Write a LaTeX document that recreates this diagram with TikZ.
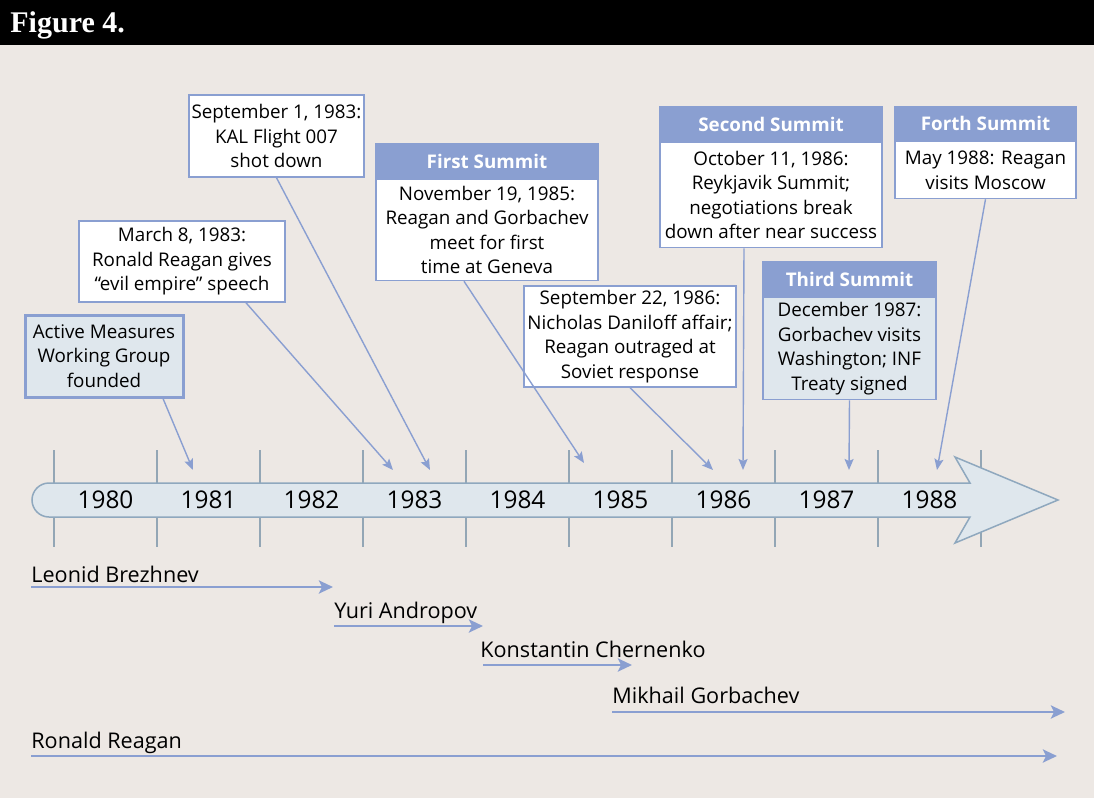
\documentclass[tikz,border=0pt]{standalone}
\usepackage{fontspec}
\setmainfont{Open Sans}
\newfontfamily\figfont{Liberation Serif}
\usepackage{tikz}
\usetikzlibrary{positioning,arrows.meta,calc}
\definecolor{SummitBlue}{HTML}{8A9FD1}
\definecolor{PaleBlue}{HTML}{DFE7ED}
\definecolor{BarEdge}{HTML}{8FA8BE}
\definecolor{TickGray}{HTML}{93A6B5}
\definecolor{PaperBg}{HTML}{EDE8E4}

\begin{document}
\begin{tikzpicture}[
    x=0.5pt, y=-0.5pt,
    event/.style={rectangle, draw=SummitBlue, line width=0.75pt, fill=white, align=center, inner sep=1pt, font=\fontsize{9.4}{12.3}\selectfont},
    summithead/.style={rectangle, draw=SummitBlue, fill=SummitBlue, line width=0.75pt, text=white, inner sep=0pt, font=\bfseries\fontsize{9.4}{11}\selectfont},
    pointer/.style={draw=SummitBlue, line width=0.7pt, -{Stealth[length=5.5pt,width=4.5pt,inset=1pt]}},
    reign/.style={draw=SummitBlue, line width=1.4pt, -{Stealth[length=7pt,width=6.5pt,inset=1.5pt]}},
    leader/.style={anchor=base west, inner sep=0pt, font=\fontsize{10.8}{13}\selectfont},
    year/.style={inner sep=0pt, font=\fontsize{12.2}{15}\selectfont}
  ]
  % Page
  \fill[PaperBg] (0,0) rectangle (1094,798);
  \fill[black] (0,0) rectangle (1094,45);
  \node[anchor=base west, inner sep=0pt, text=white, font=\figfont\bfseries\fontsize{15}{18}\selectfont] (figtitle) at (10,32) {Figure 4.};

  % Timeline
  \foreach \k in {0,...,9}
    \draw[TickGray, line width=0.75pt] (54+103*\k,450) -- (54+103*\k,547);
  \draw[BarEdge, fill=PaleBlue, line width=0.75pt] (970,483) -- (49,483)
    arc[start angle=270, end angle=90, radius=17] -- (970,517) -- (955,543)
    -- (1058,500) -- (955,457) -- cycle;
  \foreach \yr [count=\k from 0] in {1980,...,1988}
    \node[year] (y\yr) at (105.5+103*\k,500) {\yr};

  % Pointer ends
  \coordinate (p81) at (193,470);
  \coordinate (p83a) at (393,470);
  \coordinate (p83b) at (430,470);
  \coordinate (p85) at (584,463);
  \coordinate (p86a) at (713,470);
  \coordinate (p86b) at (743,470);
  \coordinate (p87) at (849,470);
  \coordinate (p88) at (937,470);

  % Events
  \node[event, line width=1.5pt, fill=PaleBlue, minimum width=79pt, minimum height=41pt] (amwg) at (104,356) {Active Measures\\Working Group\\founded};
  \node[event, minimum width=103pt, minimum height=40.5pt] (evil) at (182,261.5) {March 8, 1983:\\Ronald Reagan gives\\“evil empire” speech};
  \node[event, minimum width=87.5pt, minimum height=41pt] (kal) at (276.5,136) {September 1, 1983:\\KAL Flight 007\\shot down};
  \node[event, minimum width=106pt, minimum height=50.5pt] (daniloff) at (630,336.5) {September 22, 1986:\\Nicholas Daniloff affair;\\Reagan outraged at\\Soviet response};

  % Summits
  \node[summithead, minimum width=111pt, minimum height=17pt] (firsthead) at (487,161) {First Summit};
  \node[event, minimum width=111pt, minimum height=50.5pt, below=0pt of firsthead] (first) {November 19, 1985:\\Reagan and Gorbachev\\meet for first\\time at Geneva};
  \node[summithead, minimum width=111pt, minimum height=17pt] (secondhead) at (771,124) {Second Summit};
  \node[event, minimum width=111pt, minimum height=52.5pt, below=0pt of secondhead] (second) {October 11, 1986:\\Reykjavik Summit;\\negotiations break\\down after near success};
  \node[summithead, minimum width=86.5pt, minimum height=17pt] (thirdhead) at (849.5,279) {Third Summit};
  \node[event, fill=PaleBlue, minimum width=86.5pt, minimum height=51pt, below=0pt of thirdhead] (third) {December 1987:\\Gorbachev visits\\Washington; INF\\Treaty signed};
  \node[summithead, minimum width=90.5pt, minimum height=16.5pt] (forthhead) at (985.5,123.5) {Forth Summit};
  \node[event, minimum width=90.5pt, minimum height=28.5pt, below=0pt of forthhead] (forth) {May 1988: Reagan\\visits Moscow};

  % Pointers
  \draw[pointer] ($(amwg.south)+(59,0)$) -- (p81);
  \draw[pointer] ($(evil.south)+(64,0)$) -- (p83a);
  \draw[pointer] (kal.south) -- (p83b);
  \draw[pointer] ($(first.south)+(-23,0)$) -- (p85);
  \draw[pointer] (daniloff.south) -- (p86a);
  \draw[pointer] ($(second.south)+(-27,0)$) -- (p86b);
  \draw[pointer] (third.south) -- (p87);
  \draw[pointer] (forth.south) -- (p88);

  % Leaders
  \node[leader] (brezhnev) at (31,582) {Leonid Brezhnev};
  \node[leader] (andropov) at (334,618) {Yuri Andropov};
  \node[leader] (chernenko) at (480,657) {Konstantin Chernenko};
  \node[leader] (gorbachev) at (612,703) {Mikhail Gorbachev};
  \node[leader] (reagan) at (31,748) {Ronald Reagan};
  \coordinate (bz0) at (31,587);  \coordinate (bz1) at (333,587);
  \coordinate (an0) at (334,626); \coordinate (an1) at (483,626);
  \coordinate (ch0) at (483,665); \coordinate (ch1) at (632,665);
  \coordinate (gb0) at (612,712); \coordinate (gb1) at (1065,712);
  \coordinate (rr0) at (31,756);  \coordinate (rr1) at (1057,756);
  \draw[reign] (bz0) -- (bz1);
  \draw[reign] (an0) -- (an1);
  \draw[reign] (ch0) -- (ch1);
  \draw[reign] (gb0) -- (gb1);
  \draw[reign] (rr0) -- (rr1);
\end{tikzpicture}
\end{document}
